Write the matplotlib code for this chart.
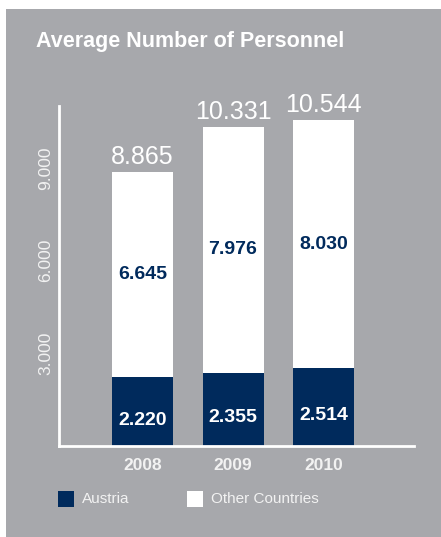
import matplotlib.pyplot as plt
from matplotlib.patches import Rectangle

years = ["2008", "2009", "2010"]
austria = [2220, 2355, 2514]
other = [6645, 7976, 8030]
totals = [8865, 10331, 10544]
y_ticks = [3000, 6000, 9000]

GREY = "#a7a8ac"
NAVY = "#002a5c"
WHITE = "#ffffff"


def fmt(v):
    # thousands separator as dot
    return f"{v:,}".replace(",", ".")


fig = plt.figure(figsize=(4.41, 5.37), dpi=100)
fig.patch.set_facecolor("white")
W, H = 441, 537

# grey panel behind everything
fig.patches.append(Rectangle((6 / W, 0), 1 - 6 / W, 1 - 9 / H,
                             transform=fig.transFigure, facecolor=GREY,
                             edgecolor="none", zorder=0))

fig.text(36 / W, 1 - 42 / H, "Average Number of Personnel",
         family="Liberation Sans", weight="bold",
         fontsize=15.5, color=WHITE, va="center", ha="left")

ax = fig.add_axes([59 / W, 91 / H, 355 / W, 340 / H])
ax.set_facecolor("none")
ax.set_zorder(2)

x = range(len(years))
width = 0.674
ax.bar(x, austria, width, color=NAVY, zorder=2)
ax.bar(x, other, width, bottom=austria, color=WHITE, zorder=2)

for i in x:
    ax.annotate(fmt(totals[i]), (i, austria[i] + other[i]), xytext=(0, 2),
                textcoords="offset points", ha="center", va="bottom",
                family="Liberation Sans", fontsize=18, color=WHITE)
    ax.annotate(fmt(other[i]), (i, austria[i] + other[i] / 2), ha="center",
                va="center", family="Liberation Sans", weight="bold",
                fontsize=14, color=NAVY)
    ax.annotate(fmt(austria[i]), (i, austria[i] / 2), xytext=(0, -6),
                textcoords="offset points", ha="center", va="center",
                family="Liberation Sans", weight="bold", fontsize=14,
                color=WHITE)

ax.set_xlim(-0.923, 3.0)
ax.set_ylim(0, 11000)

for side in ("top", "right"):
    ax.spines[side].set_visible(False)
for side in ("left", "bottom"):
    ax.spines[side].set_color(WHITE)
    ax.spines[side].set_linewidth(2)

ax.set_xticks(list(x))
ax.set_xticklabels(years, family="Liberation Sans", weight="bold",
                   fontsize=12.5, color="#f2f2f2")
ax.set_yticks(y_ticks)
ax.set_yticklabels([fmt(t) for t in y_ticks], rotation=90, va="center",
                   family="Liberation Sans", fontsize=12.5, color="#f2f2f2")
ax.tick_params(axis="both", length=0)
ax.tick_params(axis="x", pad=9)
ax.tick_params(axis="y", pad=4)

# legend drawn as squares and labels along the bottom
legend_items = [("Austria", NAVY, 58), ("Other Countries", WHITE, 187)]
for label, color, px in legend_items:
    fig.patches.append(Rectangle((px / W, 1 - 507 / H), 16 / W, 16 / H,
                                 transform=fig.transFigure, facecolor=color,
                                 edgecolor="none"))
    fig.text((px + 24) / W, 1 - 499 / H, label, family="Liberation Sans",
             fontsize=11, color="#f2f2f2", va="center", ha="left")

fig.savefig("out.png", dpi=100, facecolor=fig.get_facecolor())
